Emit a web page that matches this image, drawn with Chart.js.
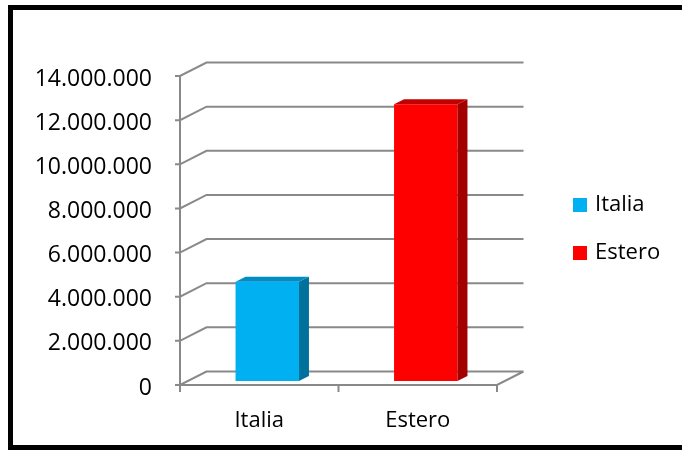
<!DOCTYPE html>
<html>
<head>
<meta charset="utf-8">
<script src="https://cdn.jsdelivr.net/npm/chart.js@4/dist/chart.umd.min.js"></script>
<style>
  body { margin: 0; background: #fff; }
  #wrap { width: 682px; height: 450px; }
</style>
</head>
<body>
<div id="wrap"><canvas id="myChart" width="682" height="450"></canvas></div>
<script>
// data
const categories = ['Italia', 'Estero'];
const values = [4500000, 12540000];
const yMax = 14000000;
const yStep = 2000000;

// colours: front face, side face, top face
const frontColors = ['#00B0F0', '#FF0000'];
const sideColors = ['#00709C', '#A30000'];
const topColors = ['#008DC4', '#C20000'];

const FONT = { family: 'Open Sans', size: 22 };
const YFONT = { family: 'Open Sans', size: 23 };
const DX = 26.5, DY = -13.5;   // depth of the back wall
const BX = 10, BY = -5;        // depth of a bar
const SX = 8, SY = -4;         // bars sit a bit behind the front plane

function fmt(v) {
    return String(v).replace(/\B(?=(\d{3})+(?!\d))/g, '.');
}

const box3d = {
    id: 'box3d',
    beforeDraw(chart) {
        const ctx = chart.ctx;
        ctx.save();
        ctx.fillStyle = '#fff';
        ctx.fillRect(0, 0, chart.width, chart.height);
        ctx.restore();
    },
    beforeDatasetsDraw(chart) {
        const ctx = chart.ctx;
        const a = chart.chartArea;
        const ys = chart.scales.y;
        ctx.save();
        ctx.strokeStyle = '#898989';
        ctx.lineWidth = 2;
        ctx.beginPath();
        // walls and gridlines
        ys.ticks.forEach(t => {
            const y = ys.getPixelForValue(t.value);
            ctx.moveTo(a.left - 5, y);
            ctx.lineTo(a.left, y);
            ctx.lineTo(a.left + DX, y + DY);
            ctx.lineTo(a.right + DX, y + DY);
        });
        ctx.moveTo(a.left, ys.getPixelForValue(yMax));
        ctx.lineTo(a.left, a.bottom);
        ctx.lineTo(a.right, a.bottom);
        ctx.lineTo(a.right + DX, a.bottom + DY);
        // category ticks
        const n = categories.length;
        for (let i = 0; i <= n; i++) {
            const x = a.left + i * (a.right - a.left) / n;
            ctx.moveTo(x, a.bottom);
            ctx.lineTo(x, a.bottom + 7);
        }
        ctx.stroke();
        ctx.restore();

        ctx.save();
        ctx.translate(SX, SY);
    },
    afterDatasetsDraw(chart) {
        const ctx = chart.ctx;
        const meta = chart.getDatasetMeta(0);
        meta.data.forEach((bar, i) => {
            const p = bar.getProps(['x', 'y', 'base', 'width'], true);
            const l = p.x - p.width / 2, r = p.x + p.width / 2;
            ctx.fillStyle = sideColors[i];
            ctx.beginPath();
            ctx.moveTo(r, p.y);
            ctx.lineTo(r + BX, p.y + BY);
            ctx.lineTo(r + BX, p.base + BY);
            ctx.lineTo(r, p.base);
            ctx.closePath();
            ctx.fill();
            ctx.fillStyle = topColors[i];
            ctx.beginPath();
            ctx.moveTo(l, p.y);
            ctx.lineTo(l + BX, p.y + BY);
            ctx.lineTo(r + BX, p.y + BY);
            ctx.lineTo(r, p.y);
            ctx.closePath();
            ctx.fill();
        });
        ctx.restore();
    },
    afterDraw(chart) {
        const ctx = chart.ctx;
        ctx.save();
        // legend
        ctx.font = FONT.size + 'px ' + FONT.family;
        ctx.textBaseline = 'middle';
        ctx.textAlign = 'left';
        categories.forEach((c, i) => {
            const y = 205 + i * 48;
            ctx.fillStyle = frontColors[i];
            ctx.fillRect(573, y - 7, 14, 14);
            ctx.fillStyle = '#000';
            ctx.fillText(c, 595, y);
        });
        // frame
        ctx.strokeStyle = '#000';
        ctx.lineWidth = 5;
        ctx.strokeRect(10.5, 7.5, 690, 440);
        ctx.restore();
    }
};

new Chart(document.getElementById('myChart'), {
    type: 'bar',
    data: {
        labels: categories,
        datasets: [{
            label: 'Valore',
            data: values,
            backgroundColor: frontColors,
            borderWidth: 0,
            categoryPercentage: 1,
            barPercentage: 0.4
        }]
    },
    options: {
        responsive: false,
        animation: false,
        layout: { padding: { top: 76, right: 185, bottom: 0, left: 0 } },
        plugins: {
            legend: { display: false },
            tooltip: { enabled: false }
        },
        scales: {
            x: {
                grid: { display: false, drawTicks: false },
                border: { display: false },
                ticks: { color: '#000', font: FONT, padding: 23, maxRotation: 0 },
                afterFit(s) { s.height = 65; }
            },
            y: {
                min: 0,
                max: yMax,
                grid: { display: false, drawTicks: false },
                border: { display: false },
                ticks: {
                    stepSize: yStep,
                    color: '#000',
                    font: YFONT,
                    padding: 28,
                    labelOffset: 3,
                    callback: v => fmt(v)
                },
                afterFit(s) { s.width = 180; }
            }
        }
    },
    plugins: [box3d]
});
</script>
</body>
</html>
